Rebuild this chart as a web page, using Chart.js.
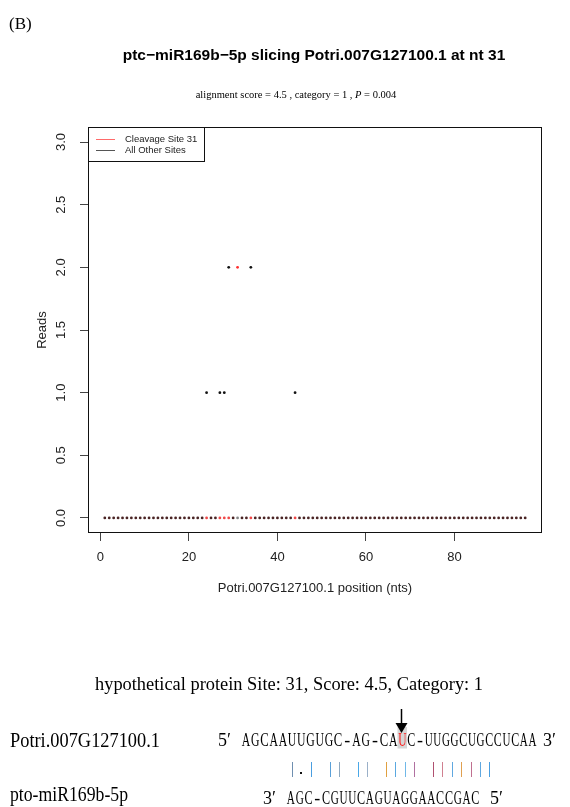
<!DOCTYPE html>
<html><head><meta charset="utf-8">
<script src="https://cdn.jsdelivr.net/npm/chart.js@4"></script>
<style>html,body{margin:0;padding:0;background:#fff;}canvas{display:block;}</style>
</head><body>
<canvas id="c" width="570" height="807"></canvas>
<script>
// ---- data ----
const positions = [1,2,3,4,5,6,7,8,9,10,11,12,13,14,15,16,17,18,19,20,21,22,23,24,25,26,27,28,29,30,31,32,33,34,35,36,37,38,39,40,41,42,43,44,45,46,47,48,49,50,51,52,53,54,55,56,57,58,59,60,61,62,63,64,65,66,67,68,69,70,71,72,73,74,75,76,77,78,79,80,81,82,83,84,85,86,87,88,89,90,91,92,93,94,95,96];
const reads = [
  0,0,0,0,0,0,0,0,0,0,
  0,0,0,0,0,0,0,0,0,0,
  0,0,0,1,0,0,1,1,2,0,
  2,0,0,2,0,0,0,0,0,0,
  0,0,0,1,0,0,0,0,0,0,
  0,0,0,0,0,0,0,0,0,0,
  0,0,0,0,0,0,0,0,0,0,
  0,0,0,0,0,0,0,0,0,0,
  0,0,0,0,0,0,0,0,0,0,
  0,0,0,0,0,0
];
const cleavageSite = 31;
const xTicks = [0,20,40,60,80];
const xTickLabels = ['0','20','40','60','80'];
const yTicks = [0,0.5,1,1.5,2,2.5,3];
const yTickLabels = ['0.0','0.5','1.0','1.5','2.0','2.5','3.0'];
const seriesNames = ['Cleavage Site 31','All Other Sites'];
const mainTitle = 'ptc\u2212miR169b\u22125p slicing Potri.007G127100.1 at nt 31';
const subTitleA = 'alignment score = 4.5 , category = 1 , ';
const subTitleP = 'P';
const subTitleB = ' = 0.004';
const xTitle = 'Potri.007G127100.1 position (nts)';
const yTitle = 'Reads';
const panelLabel = '(B)';
const siteText = 'hypothetical protein Site: 31, Score: 4.5, Category: 1';
const targetName = 'Potri.007G127100.1';
const mirName = 'pto-miR169b-5p';
const targetSeqA = 'AGCAAUUGUGC-AG-CA';
const targetSite = 'U';
const targetSeqB = 'C-UUGGCUGCCUCAA';
const mirSeq = 'AGC-CGUUCAGUAGGAACCGAC';
const pairing = '|.| || || |||| |||||||';

// ---- derived point sets ----
const sitePts = [{x: cleavageSite, y: reads[cleavageSite-1]}];
const otherPts = positions.filter(p => p !== cleavageSite).map(p => ({x: p, y: reads[p-1]}));
const basePts = positions.filter(p => reads[p-1] > 0).map(p => ({x: p, y: 0}));

const xMin = positions[0] - 0.04*(positions[positions.length-1]-positions[0]);
const xMax = positions[positions.length-1] + 0.04*(positions[positions.length-1]-positions[0]);
const yMin = -0.04*3, yMax = 3 + 0.04*3;

const SANS = '"Liberation Sans", Arial, sans-serif';
const SERIF = '"Liberation Serif", "Times New Roman", serif';

const markColors = ['#6f8fb0','#000','#4a9ee0','', '#5aa0d8','#8fa9c0','', '#4aa8e8','#9ab0c8','', '#e0a040','#5aa8e0','#70b8e8','#b070a0','', '#b05070','#d08090','#60a8e0','#e0a050','#c07090','#60a8e0','#4a9ee0'];

const decor = {
  id: 'decor',
  afterDraw(chart) {
    const ctx = chart.ctx;
    const a = chart.chartArea;
    const ys = chart.scales.y;
    ctx.save();
    // box
    ctx.strokeStyle = '#111'; ctx.lineWidth = 1;
    ctx.strokeRect(Math.round(a.left)+0.5, Math.round(a.top)+0.5, Math.round(a.right-a.left)-1, Math.round(a.bottom-a.top)-1);
    // y tick labels (rotated, R style)
    ctx.fillStyle = '#222';
    ctx.font = '13px ' + SANS;
    ctx.textAlign = 'center'; ctx.textBaseline = 'middle';
    ys.ticks.forEach((t, i) => {
      const py = ys.getPixelForValue(t.value);
      ctx.save(); ctx.translate(61, py); ctx.rotate(-Math.PI/2);
      ctx.fillText(t.label, 0, 0); ctx.restore();
    });
    // legend
    const lx = Math.round(a.left)+0.5, ly = Math.round(a.top)+0.5;
    ctx.fillStyle = '#fff';
    ctx.fillRect(lx, ly, 116, 34);
    ctx.strokeStyle = '#111';
    ctx.strokeRect(lx, ly, 116, 34);
    const ds = chart.data.datasets;
    [[ds[0], 139.5, '#ff6a6a'], [ds[1], 150.5, '#555']].forEach(([d, y, c]) => {
      ctx.strokeStyle = c; ctx.lineWidth = 1;
      ctx.beginPath(); ctx.moveTo(96, y); ctx.lineTo(115, y); ctx.stroke();
      ctx.fillStyle = '#222'; ctx.font = '9.5px ' + SANS;
      ctx.textAlign = 'left'; ctx.textBaseline = 'middle';
      ctx.fillText(d.label, 125, y);
    });
    // titles
    ctx.fillStyle = '#000';
    ctx.textBaseline = 'alphabetic';
    ctx.font = '17px ' + SERIF; ctx.textAlign = 'left';
    ctx.fillText(panelLabel, 9, 29);
    ctx.font = 'bold 15.5px ' + SANS; ctx.textAlign = 'center';
    ctx.fillText(mainTitle, 314, 60);
    const sf = '10.5px ' + SERIF;
    ctx.font = sf; ctx.textAlign = 'left';
    const wA = ctx.measureText(subTitleA).width;
    ctx.font = 'italic ' + sf;
    const wP = ctx.measureText(subTitleP).width;
    ctx.font = sf;
    const wB = ctx.measureText(subTitleB).width;
    let sx = 296 - (wA+wP+wB)/2;
    ctx.fillText(subTitleA, sx, 98);
    ctx.font = 'italic ' + sf; ctx.fillText(subTitleP, sx+wA, 98);
    ctx.font = sf; ctx.fillText(subTitleB, sx+wA+wP, 98);
    // bottom alignment block
    ctx.font = '19px ' + SERIF; ctx.textAlign = 'left';
    ctx.fillText(siteText, 95, 690, 388);
    ctx.font = '20px ' + SERIF;
    ctx.fillText(targetName, 10, 746.5, 150);
    ctx.fillText(mirName, 10, 801, 118);
    ctx.font = '18px ' + SERIF;
    const drawSeq = (s, x0, pitch, y, color) => {
      ctx.fillStyle = color; ctx.textAlign = 'center';
      for (let i = 0; i < s.length; i++) ctx.fillText(s[i], x0 + pitch*i + pitch/2, y, pitch*0.92);
    };
    ctx.textAlign = 'left';
    ctx.fillStyle = '#000';
    ctx.fillText('5\u2032', 218, 745.5);
    drawSeq(targetSeqA, 241.5, 9.2, 745.5, '#000');
    ctx.fillStyle = '#d6d6d6'; ctx.fillRect(397.5, 727, 9.5, 21.5);
    drawSeq(targetSite, 398, 9, 745.5, '#ff1a1a');
    drawSeq(targetSeqB, 407, 8.65, 745.5, '#000');
    ctx.textAlign = 'left'; ctx.fillStyle = '#000';
    ctx.fillText('3\u2032', 543, 745.5);
    ctx.fillText('3\u2032', 263, 804);
    drawSeq(mirSeq, 286.5, 8.78, 804, '#000');
    ctx.textAlign = 'left'; ctx.fillStyle = '#000';
    ctx.fillText('5\u2032', 490, 804);
    // pairing marks
    for (let i = 0; i < pairing.length; i++) {
      const ch = pairing[i];
      const px = Math.round(292 + 9.4*i) + 0.5;
      if (ch === '|') {
        ctx.strokeStyle = markColors[i] || '#6af'; ctx.lineWidth = 1;
        ctx.beginPath(); ctx.moveTo(px, 762); ctx.lineTo(px, 777); ctx.stroke();
      } else if (ch === '.') {
        ctx.fillStyle = '#111'; ctx.fillRect(px-1.5, 772, 2, 2);
      }
    }
    // cleavage arrow
    ctx.strokeStyle = '#000'; ctx.lineWidth = 1.5;
    ctx.beginPath(); ctx.moveTo(401.5, 709); ctx.lineTo(401.5, 724); ctx.stroke();
    ctx.fillStyle = '#000';
    ctx.beginPath(); ctx.moveTo(395.5, 723); ctx.lineTo(407.5, 723); ctx.lineTo(401.5, 733); ctx.closePath(); ctx.fill();
    ctx.restore();
  }
};

new Chart(document.getElementById('c'), {
  type: 'scatter',
  data: {
    datasets: [
      { label: seriesNames[0], data: sitePts, pointRadius: 1.4, pointBorderWidth: 0,
        pointBackgroundColor: '#ff3030' },
      { label: seriesNames[1], data: otherPts, pointRadius: 1.4, pointBorderWidth: 0,
        pointBackgroundColor: ctx => (ctx.raw && ctx.raw.y > 0) ? '#111' : '#4a2424' },
      { label: 'base', data: basePts, pointRadius: 1.4, pointBorderWidth: 0,
        pointBackgroundColor: ctx => (ctx.raw && ctx.raw.x === cleavageSite) ? '#888' : '#f04848' }
    ]
  },
  options: {
    responsive: false, animation: false, devicePixelRatio: 1,
    layout: { padding: { left: 0, right: 28, top: 127, bottom: 0 } },
    plugins: { legend: { display: false }, tooltip: { enabled: false }, title: { display: false } },
    scales: {
      x: {
        type: 'linear', position: 'bottom', min: xMin, max: xMax,
        afterBuildTicks: s => { s.ticks = xTicks.map(v => ({ value: v })); },
        afterFit: s => { s.height = 274; },
        grid: { drawOnChartArea: false, drawTicks: true, tickLength: 8, color: '#444', lineWidth: 1 },
        border: { display: false },
        ticks: { font: { family: SANS, size: 13 }, color: '#222', padding: 9, maxRotation: 0, autoSkip: false,
          callback: v => xTickLabels[xTicks.indexOf(v)] },
        title: { display: true, text: xTitle, color: '#222', font: { family: SANS, size: 13 }, padding: { top: 0, bottom: 211 } }
      },
      y: {
        type: 'linear', position: 'left', min: yMin, max: yMax,
        afterBuildTicks: s => { s.ticks = yTicks.map(v => ({ value: v })); },
        afterFit: s => { s.width = 88; },
        grid: { drawOnChartArea: false, drawTicks: true, tickLength: 8, color: '#444', lineWidth: 1 },
        border: { display: false },
        ticks: { display: false, callback: v => yTickLabels[yTicks.indexOf(v)] },
        title: { display: true, text: yTitle, color: '#222', font: { family: SANS, size: 13 }, padding: { top: 35, bottom: 0 } }
      }
    }
  },
  plugins: [decor]
});
</script>
</body></html>
